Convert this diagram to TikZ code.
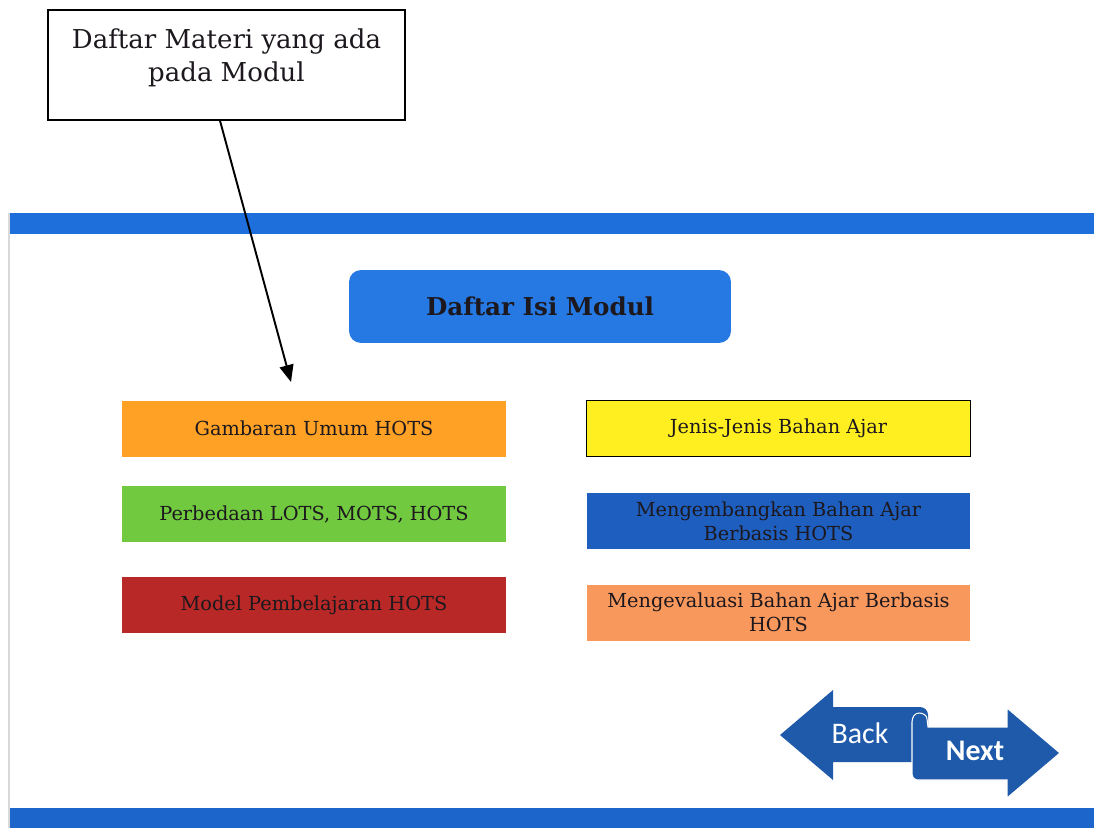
\documentclass[tikz,border=0pt]{standalone}
\usepackage{fontspec}
\setmainfont{DejaVu Serif}
\setsansfont{Carlito}
\usetikzlibrary{positioning,arrows.meta}

\definecolor{bandblue}{RGB}{30,110,220}
\definecolor{titleblue}{RGB}{38,121,226}
\definecolor{navblue}{RGB}{31,90,170}
\definecolor{hotsorange}{RGB}{255,161,36}
\definecolor{hotsgreen}{RGB}{112,201,62}
\definecolor{hotsred}{RGB}{184,40,38}
\definecolor{hotsyellow}{RGB}{255,238,32}
\definecolor{hotsblue}{RGB}{30,94,190}
\definecolor{hotspeach}{RGB}{249,152,92}
\definecolor{inktext}{RGB}{28,24,30}

\begin{document}
\begin{tikzpicture}[
  x=0.02cm, y=-0.02cm,
  topic/.style={rectangle, minimum width=7.68cm, minimum height=1.12cm, align=center,
    text=inktext, font=\fontsize{11}{13.6}\selectfont},
  navtext/.style={text=white, font=\sffamily\fontsize{17}{20}\selectfont},
  font=\small
]
\useasboundingbox (0,0) rectangle (1094,828);

% slide frame and bands
\draw[gray!30, line width=0.6pt] (9,213) -- (9,828);
\fill[bandblue] (10,213) rectangle (1094,234);
\fill[bandblue!92!black] (10,808) rectangle (1094,828);

% callout
\node[draw, thick, minimum width=7.14cm, minimum height=2.2cm] (callout) at (226.5,65) {};
\node[align=center, font=\fontsize{14.8}{18.7}\selectfont, text=inktext] (calltext) at (226.5,58)
  {Daftar Materi yang ada\\pada Modul};
\coordinate (tip) at (291,382);
\draw[line width=1.1pt, -{Triangle[length=3.4mm, width=2.8mm]}] ([xshift=-0.13cm]callout.south) -- (tip);

% title
\node[rectangle, rounded corners=0.24cm, fill=titleblue, minimum width=7.64cm, minimum height=1.46cm,
  font=\bfseries\fontsize{14}{17}\selectfont, text=inktext] (title) at (540,306.5) {Daftar Isi Modul};

% left column
\node[topic, fill=hotsorange] (gambaran) at (314,428.5) {Gambaran Umum HOTS};
\node[topic, fill=hotsgreen] (perbedaan) at (314,514) {Perbedaan LOTS, MOTS, HOTS};
\node[topic, fill=hotsred] (model) at (314,605) {Model Pembelajaran HOTS};

% right column
\node[topic, fill=hotsyellow, draw=black, thick] (jenis) at (778.5,428.5) {Jenis-Jenis Bahan Ajar};
\node[topic, fill=hotsblue] (mengembangkan) at (778.5,521) {Mengembangkan Bahan Ajar\\Berbasis HOTS};
\node[topic, fill=hotspeach] (mengevaluasi) at (778.5,612.5) {Mengevaluasi Bahan Ajar Berbasis\\HOTS};

% navigation arrows
\fill[navblue] (780,735) -- (833,690) -- (833,707) -- (920,707)
  to[out=0, in=90] (928,715) -- (928,762) -- (833,762) -- (833,780) -- cycle;
\filldraw[fill=navblue, draw=white, line width=0.6pt] (928,727) -- (1007,727) -- (1007,708) -- (1060,753)
  -- (1007,798) -- (1007,780) -- (918,780) to[out=180, in=-90] (912,774) -- (912,722)
  to[out=90, in=180] (919,713) to[out=0, in=90] (927,719) -- cycle;
\node[navtext] (back) at (860,733) {Back};
\node[navtext, font=\sffamily\bfseries\fontsize{17}{20}\selectfont] (next) at (975,751) {Next};
\end{tikzpicture}
\end{document}
